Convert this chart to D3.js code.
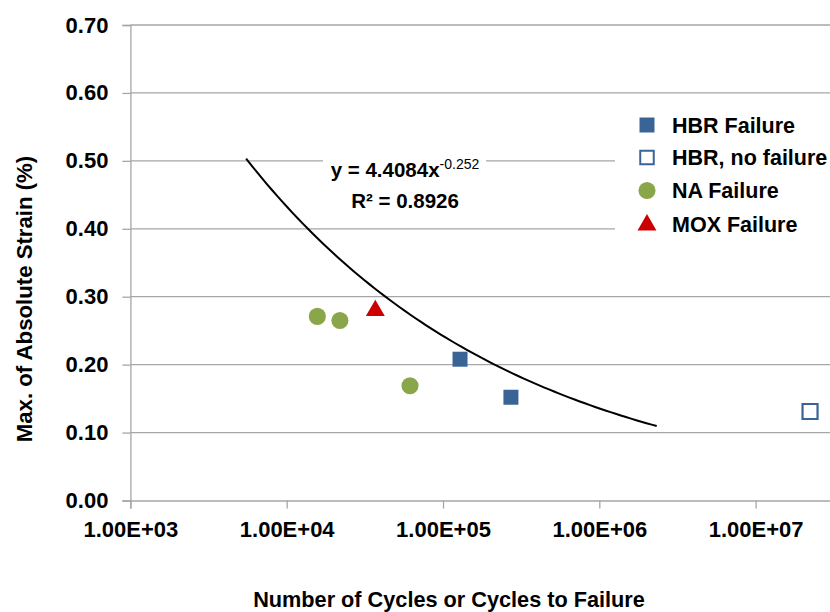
<!DOCTYPE html>
<html>
<head>
<meta charset="utf-8">
<script src="https://cdn.jsdelivr.net/npm/d3@7"></script>
<style>
  body { margin: 0; background: #fff; }
  svg { display: block; font-family: "Liberation Sans", Arial, sans-serif; font-weight: bold; }
  .grid line { stroke: #a6a6a6; stroke-width: 1.3; }
  .axis path, .axis line { stroke: #a6a6a6; stroke-width: 1.3; }
  .axis text { font-size: 22px; fill: #000; font-weight: bold; }
</style>
</head>
<body>
<div id="chart"></div>
<script>
// values
var hbrFailure   = [{ n: 128500, s: 0.208 }, { n: 272000, s: 0.152 }];
var hbrNoFailure = [{ n: 22300000, s: 0.131 }];
var naFailure    = [{ n: 15700, s: 0.271 }, { n: 21900, s: 0.265 }, { n: 61500, s: 0.169 }];
var moxFailure   = [{ n: 36900, s: 0.281 }];

// power trendline y = a * x^b, drawn across its shown span
var trendCoef  = [4.4084, -0.252];
var trendSpan  = [5500, 2330000];
var trendLabel = ["y = 4.4084x", "-0.252", "R\u00b2 = 0.8926"];

var yTicks = [0, 0.1, 0.2, 0.3, 0.4, 0.5, 0.6, 0.7];
var xTicks = [1e3, 1e4, 1e5, 1e6, 1e7];
var xTickLabels = ["1.00E+03", "1.00E+04", "1.00E+05", "1.00E+06", "1.00E+07"];

var legendNames = ["HBR Failure", "HBR, no failure", "NA Failure", "MOX Failure"];

var W = 830, H = 612;
var blue = "#3a6396", green = "#8aa64b", red = "#cc0000";

var svg = d3.select("#chart").append("svg")
  .attr("width", W).attr("height", H);

var x = d3.scaleLog().domain([1e3, 1e8]).range([130.4, 911.9]);
var y = d3.scaleLinear().domain([0, 0.7]).range([500.5, 25]);

// horizontal gridlines
svg.append("g").attr("class", "grid")
  .selectAll("line").data(yTicks.slice(1)).enter().append("line")
  .attr("x1", x(1e3)).attr("x2", W)
  .attr("y1", function(d){ return y(d); })
  .attr("y2", function(d){ return y(d); });

// axes
svg.append("g").attr("class", "axis")
  .attr("transform", "translate(" + x(1e3) + ",0)")
  .call(d3.axisLeft(y).tickValues(yTicks).tickFormat(d3.format(".2f")).tickSize(8).tickPadding(14));

svg.append("g").attr("class", "axis")
  .attr("transform", "translate(0," + y(0) + ")")
  .call(d3.axisBottom(x).tickValues(xTicks)
    .tickFormat(function(d, i){ return xTickLabels[i]; })
    .tickSize(8).tickPadding(13));

svg.selectAll(".axis path").attr("fill", "none");

// trendline
var line = d3.line()
  .x(function(d){ return x(d); })
  .y(function(d){ return y(trendCoef[0] * Math.pow(d, trendCoef[1])); });

var lo = Math.log10(trendSpan[0]), hi = Math.log10(trendSpan[1]);
var trendX = d3.range(0, 81).map(function(i){ return Math.pow(10, lo + (hi - lo) * i / 80); });

svg.append("path").datum(trendX)
  .attr("d", line)
  .attr("fill", "none").attr("stroke", "#000").attr("stroke-width", 2);

// equation label, on a white box
svg.append("rect").attr("x", 323).attr("y", 152).attr("width", 163).attr("height", 64).attr("fill", "#fff");
var eq = svg.append("text").attr("x", 405).attr("y", 177)
  .attr("text-anchor", "middle").attr("font-size", 20.5);
eq.append("tspan").text(trendLabel[0]);
eq.append("tspan").attr("dy", -8).attr("font-size", 14).attr("font-weight", "normal").text(trendLabel[1]);
svg.append("text").attr("x", 405).attr("y", 208)
  .attr("text-anchor", "middle").attr("font-size", 20.5).text(trendLabel[2]);

// markers
var sym = {
  sq: d3.symbol().type(d3.symbolSquare).size(225),
  ho: d3.symbol().type(d3.symbolSquare).size(225),
  ci: d3.symbol().type(d3.symbolCircle).size(230),
  tr: d3.symbol().type(d3.symbolTriangle).size(155)
};

function drawPoints(data, gen, fill, stroke, dy) {
  svg.append("g").selectAll("path").data(data).enter().append("path")
    .attr("d", gen)
    .attr("transform", function(d){ return "translate(" + x(d.n) + "," + (y(d.s) + (dy || 0)) + ")"; })
    .attr("fill", fill)
    .attr("stroke", stroke || "none")
    .attr("stroke-width", 2.2);
}

drawPoints(naFailure, sym.ci, green);
drawPoints(moxFailure, sym.tr, red, null, 1);
drawPoints(hbrFailure, sym.sq, blue);
drawPoints(hbrNoFailure, sym.ho, "#fff", blue);

// legend
svg.append("rect").attr("x", 615).attr("y", 105).attr("width", 215).attr("height", 140).attr("fill", "#fff");
var legGens = [sym.sq, sym.ho, sym.ci, sym.tr];
var legFill = [blue, "#fff", green, red];
var legStroke = [null, blue, null, null];
var legY = [125, 157.5, 190.5, 224];

var leg = svg.append("g").selectAll("g").data(legendNames).enter().append("g")
  .attr("transform", function(d, i){ return "translate(647," + legY[i] + ")"; });
leg.append("path")
  .attr("d", function(d, i){ return legGens[i](); })
  .attr("transform", function(d, i){ return i === 1 ? "scale(0.9)" : (i === 3 ? "translate(0,1)" : null); })
  .attr("fill", function(d, i){ return legFill[i]; })
  .attr("stroke", function(d, i){ return legStroke[i] || "none"; })
  .attr("stroke-width", 2.2);
leg.append("text").attr("x", 25).attr("y", 7.5)
  .attr("font-size", 21.5).text(function(d){ return d; });

// axis titles
svg.append("text")
  .attr("transform", "translate(32,299) rotate(-90)")
  .attr("text-anchor", "middle").attr("font-size", 22.2)
  .text("Max. of Absolute Strain (%)");

svg.append("text")
  .attr("x", 449).attr("y", 607)
  .attr("text-anchor", "middle").attr("font-size", 21.7)
  .text("Number of Cycles or Cycles to Failure");
</script>
</body>
</html>
